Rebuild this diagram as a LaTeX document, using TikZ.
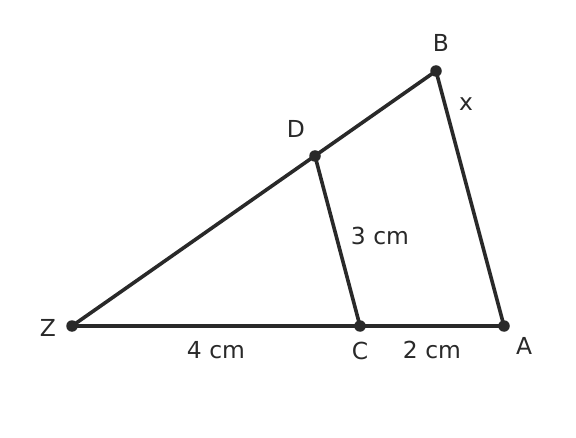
\documentclass[tikz,border=0pt]{standalone}
\usepackage{fontspec}
\setmainfont{DejaVu Sans}
\begin{document}
\begin{tikzpicture}[x=1bp,y=-1bp,
  seg/.style={line width=3.6bp, draw=black!84},
  pt/.style={circle, fill=black!84, inner sep=0pt, minimum size=11.5bp},
  lbl/.style={font=\fontsize{23.5}{28}\selectfont, text=black!84}]
      \useasboundingbox (0,0) rectangle (576,438);
      \node at(72,326) [pt] (Z) {};
      \node at(360,326) [pt] (C) {};
      \node at(504,326) [pt] (A) {};
      \node at(436,71) [pt] (B) {};
      \node at(315,156) [pt] (D) {};

      \draw[seg]
      (Z.center)--(A.center)--(B.center)--(Z.center)
      (D.center)--(C.center);

      \node at(48,328) [lbl] {Z};
      \node at(360,351) [lbl] {C};
      \node at(524,346) [lbl] {A};
      \node at(441,43) [lbl] {B};
      \node at(296,129) [lbl] {D};
      \node at(466,104) [lbl] {x};
      \node at(380,236) [lbl] {3 cm};
      \node at(216,350) [lbl] {4 cm};
      \node at(432,350) [lbl] {2 cm};
\end{tikzpicture}
\end{document}
